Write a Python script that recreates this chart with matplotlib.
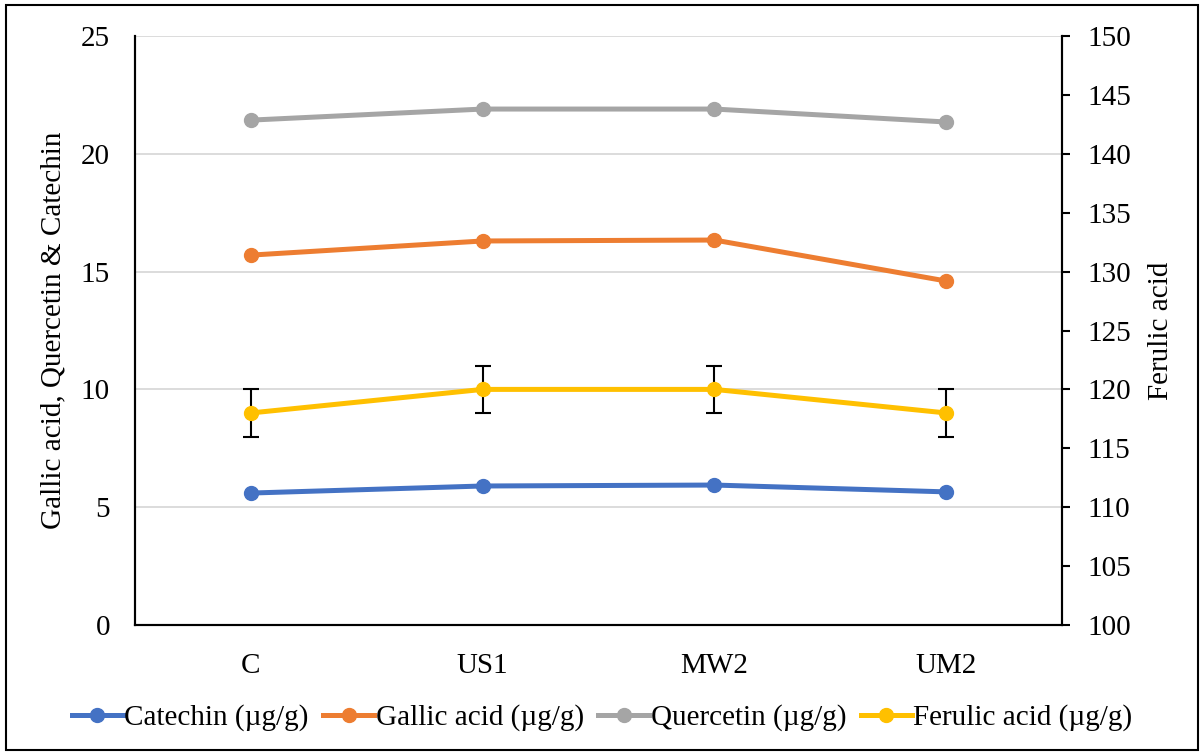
import numpy as np
import matplotlib.pyplot as plt
from matplotlib.lines import Line2D
from matplotlib.patches import Rectangle

plt.rcParams['font.family'] = ['Liberation Serif', 'DejaVu Serif']

samples = ['C', 'US1', 'MW2', 'UM2']
catechin = [5.60, 5.90, 5.94, 5.65]
gallic = [15.70, 16.30, 16.34, 14.60]
quercetin = [21.43, 21.90, 21.90, 21.35]
ferulic = [118.0, 120.0, 120.0, 118.0]
ferulic_err = [2.0, 2.0, 2.0, 2.0]

colors = ['#4472C4', '#ED7D31', '#A5A5A5', '#FFC000']
labels = ['Catechin (µg/g)', 'Gallic acid (µg/g)', 'Quercetin (µg/g)', 'Ferulic acid (µg/g)']

fig = plt.figure(figsize=(12.04, 7.55), dpi=100)
ax = fig.add_axes([0.1121, 0.1722, 0.7701, 0.7801])
ax2 = ax.twinx()

x = np.arange(len(samples))
lw = 3.6
ms = 10
fs = 21
ax.plot(x, catechin, '-o', color=colors[0], lw=lw, ms=ms)
ax.plot(x, gallic, '-o', color=colors[1], lw=lw, ms=ms)
ax.plot(x, quercetin, '-o', color=colors[2], lw=lw, ms=ms)
ax2.errorbar(x, ferulic, yerr=ferulic_err, fmt='-o', color=colors[3], lw=lw, ms=ms,
             ecolor='black', elinewidth=1.5, capsize=6, capthick=1.5)

ax.set_xlim(-0.5, 3.5)
ax.set_ylim(0, 25)
ax.set_yticks(np.arange(0, 26, 5))
ax2.set_ylim(100, 150)
ax2.set_yticks(np.arange(100, 151, 5))
ax.set_xticks(x)
ax.set_xticklabels(samples)

ax.grid(axis='y', color='#D9D9D9', lw=1.3)
ax.set_axisbelow(True)
ax.spines['top'].set_visible(False)
ax2.spines['top'].set_visible(False)
for a in (ax, ax2):
    a.spines['left'].set_linewidth(1.5)
    a.spines['bottom'].set_linewidth(1.5)
    a.spines['right'].set_linewidth(1.5)
ax.tick_params(axis='y', length=0, labelsize=fs, pad=18)
ax.tick_params(axis='x', length=0, labelsize=fs, pad=20)
ax2.tick_params(axis='y', length=6, width=1.5, labelsize=fs, pad=12)

ax.set_ylabel('Gallic acid, Quercetin & Catechin', fontsize=fs, labelpad=10)
ax2.set_ylabel('Ferulic acid', fontsize=fs, labelpad=12)

handles = [Line2D([], [], color=c, lw=lw, marker='o', ms=ms) for c in colors]
fig.legend(handles, labels, loc='center', bbox_to_anchor=(0.5, 0.049), ncol=4,
           frameon=False, fontsize=fs, handlelength=1.75, handletextpad=0.05,
           columnspacing=0.5)

fig.patches.append(Rectangle((0.005, 0.007), 0.99, 0.986, transform=fig.transFigure,
                             fill=False, edgecolor='black', lw=1.5))

fig.savefig('out.png', dpi=100)
